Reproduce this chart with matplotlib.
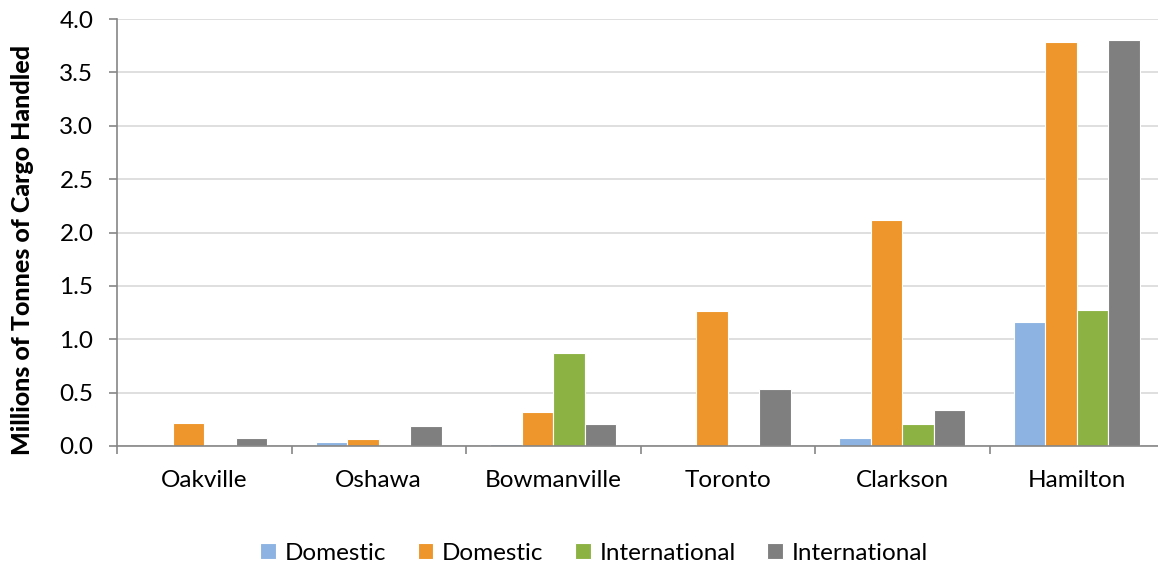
import numpy as np
import matplotlib.pyplot as plt

plt.rcParams['font.family'] = ['Lato', 'DejaVu Sans']

ports = ["Oakville", "Oshawa", "Bowmanville", "Toronto", "Clarkson", "Hamilton"]
series_names = ["Domestic", "Domestic", "International", "International"]
dom_blue = [0.0, 0.035, 0.02, 0.0, 0.075, 1.16]
dom_orange = [0.22, 0.07, 0.32, 1.26, 2.12, 3.78]
intl_green = [0.0, 0.0, 0.87, 0.0, 0.203, 1.275]
intl_gray = [0.075, 0.19, 0.205, 0.537, 0.334, 3.80]
colors = ["#8DB3E2", "#EE962B", "#8DB244", "#7F7F7F"]

values = [dom_blue, dom_orange, intl_green, intl_gray]

fig = plt.figure(figsize=(11.58, 5.65), dpi=100)
ax = fig.add_axes([117/1158, 119/565, 1047/1158, 427/565])

x = np.arange(len(ports))
w = 0.18
for i, (vals, name, c) in enumerate(zip(values, series_names, colors)):
    ax.bar(x + (i - 1.5) * w, vals, w, color=c, label=name,
           edgecolor="white", linewidth=0.8, zorder=3)

ax.set_xlim(-0.5, len(ports) - 0.5)
ax.set_ylim(0, 4.0)
ticks = np.arange(0, 4.01, 0.5)
ax.set_yticks(ticks)
ax.set_yticklabels([f"{v:.1f}" for v in ticks], fontsize=17.5)
ax.yaxis.grid(True, color="#D9D9D9", linewidth=1.2, zorder=0)

ax.set_xticks(np.arange(-0.5, len(ports), 1.0))
ax.set_xticklabels([])
ax.set_xticks(x, minor=True)
ax.set_xticklabels(ports, minor=True, fontsize=17.5)
ax.tick_params(axis="x", which="major", length=6, color="#868686", width=1.2)
ax.tick_params(axis="x", which="minor", length=0, pad=17)
ax.tick_params(axis="y", length=6, color="#868686", width=1.2, pad=11)

for s in ["top", "right"]:
    ax.spines[s].set_visible(False)
for s in ["left", "bottom"]:
    ax.spines[s].set_color("#868686")
    ax.spines[s].set_linewidth(1.2)
    ax.spines[s].set_zorder(5)

ax.set_ylabel("Millions of Tonnes of Cargo Handled", fontsize=18,
              fontweight="black")
ax.yaxis.set_label_coords(-0.079, 0.459)

fig.legend(loc="center", bbox_to_anchor=(0.513, 0.021), ncol=4,
           frameon=False, fontsize=17.5, handlelength=0.65, handleheight=0.65,
           handletextpad=0.35, columnspacing=1.3)

fig.savefig("out.png", dpi=100)
